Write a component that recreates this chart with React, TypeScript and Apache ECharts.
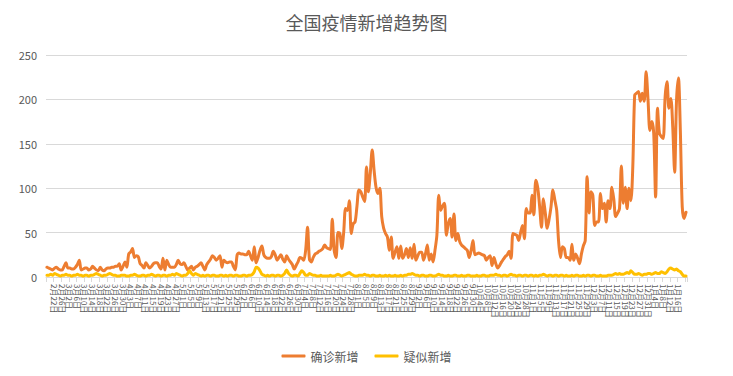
import React, { useEffect, useRef } from "react";
import * as echarts from "echarts";

const startDate = { year: 2021, month: 2, day: 18 };
const dayCount = 337;

// 确诊新增 (daily)
const confirmedValues: number[] = [
  11, 10, 9, 8, 10, 11, 9, 8, 8, 12, 16, 10, 10, 9, 9, 11, 14, 19, 8, 9,
  10, 10, 8, 9, 12, 10, 8, 7, 11, 8, 7, 9, 10, 10, 11, 11, 12, 12, 15, 8,
  12, 17, 11, 26, 28, 32, 22, 24, 23, 15, 13, 10, 16, 13, 10, 12, 15, 16, 16, 12,
  9, 21, 8, 19, 14, 11, 11, 11, 14, 19, 15, 14, 16, 12, 8, 10, 12, 8, 11, 12,
  14, 16, 12, 8, 14, 17, 20, 24, 22, 19, 21, 24, 11, 19, 17, 16, 17, 17, 12, 8,
  25, 27, 26, 26, 25, 25, 29, 24, 19, 34, 16, 22, 30, 35, 25, 22, 21, 21, 23, 29,
  25, 19, 22, 25, 20, 17, 24, 20, 17, 14, 9, 13, 17, 22, 21, 19, 30, 56, 20, 17,
  22, 26, 27, 29, 30, 32, 36, 33, 32, 31, 65, 30, 22, 50, 49, 32, 50, 77, 75, 86,
  49, 60, 62, 80, 98, 96, 90, 85, 124, 96, 117, 143, 120, 101, 94, 100, 68, 55, 49, 45,
  30, 45, 21, 28, 34, 21, 35, 21, 25, 32, 22, 33, 21, 37, 19, 24, 28, 28, 19, 26,
  36, 19, 26, 17, 30, 47, 92, 75, 80, 83, 47, 60, 66, 45, 71, 41, 49, 40, 36, 34,
  32, 30, 22, 30, 41, 25, 26, 27, 26, 25, 24, 19, 22, 24, 13, 22, 15, 10, 13, 17,
  20, 23, 25, 29, 21, 49, 48, 47, 41, 50, 58, 43, 77, 72, 72, 92, 70, 109, 101, 80,
  56, 88, 72, 55, 65, 79, 98, 87, 75, 40, 22, 34, 32, 22, 22, 19, 37, 19, 26, 21,
  15, 26, 35, 41, 113, 72, 96, 92, 58, 62, 62, 94, 77, 83, 62, 86, 77, 101, 88, 68,
  72, 77, 125, 83, 101, 77, 100, 86, 124, 205, 207, 209, 198, 207, 198, 231, 200, 165, 175, 162,
  90, 190, 162, 158, 156, 203, 220, 190, 201, 169, 118, 199, 224, 165, 79, 66, 73,
];

// 疑似新增 (daily)
const suspectedValues: number[] = [
  2, 2, 3, 2, 4, 3, 2, 1, 2, 2, 3, 2, 2, 1, 2, 2, 3, 2, 2, 1,
  2, 2, 1, 2, 2, 3, 4, 3, 2, 1, 2, 2, 3, 4, 3, 2, 2, 1, 1, 2,
  2, 2, 1, 1, 2, 2, 3, 2, 1, 1, 2, 2, 1, 2, 2, 3, 2, 1, 2, 2,
  1, 2, 2, 1, 2, 2, 3, 2, 4, 3, 2, 1, 2, 2, 4, 7, 4, 2, 4, 3,
  2, 1, 2, 1, 2, 2, 1, 2, 2, 1, 1, 2, 2, 1, 2, 1, 2, 2, 1, 2,
  2, 1, 1, 2, 2, 1, 2, 2, 3, 6, 11, 10, 7, 3, 2, 1, 2, 1, 2, 2,
  1, 2, 2, 1, 2, 4, 8, 4, 2, 1, 2, 2, 1, 4, 7, 5, 2, 2, 4, 3,
  2, 2, 1, 1, 2, 1, 1, 1, 1, 2, 1, 1, 2, 3, 2, 1, 2, 3, 4, 5,
  3, 2, 1, 1, 2, 2, 2, 3, 2, 2, 1, 2, 2, 1, 1, 2, 1, 1, 2, 1,
  2, 1, 1, 2, 1, 1, 2, 1, 2, 2, 3, 3, 4, 3, 2, 2, 1, 2, 2, 1,
  1, 2, 2, 1, 1, 2, 3, 2, 2, 1, 1, 2, 1, 1, 2, 2, 1, 1, 2, 1,
  1, 2, 2, 1, 1, 1, 2, 1, 1, 2, 2, 1, 1, 2, 2, 2, 3, 2, 2, 1,
  2, 2, 1, 2, 3, 2, 2, 1, 2, 2, 1, 2, 2, 1, 2, 2, 1, 2, 1, 2,
  2, 3, 2, 1, 2, 2, 1, 2, 2, 1, 2, 2, 1, 2, 1, 1, 2, 1, 2, 2,
  1, 1, 2, 1, 2, 2, 1, 2, 2, 1, 1, 2, 1, 1, 1, 2, 2, 2, 3, 4,
  3, 4, 3, 3, 4, 5, 4, 7, 5, 3, 3, 4, 3, 2, 3, 3, 4, 4, 3, 4,
  5, 4, 4, 6, 5, 4, 6, 9, 10, 9, 8, 9, 7, 6, 3, 1, 1,
];

const seriesNames = ["确诊新增", "疑似新增"];
const yTicks = [0, 50, 100, 150, 200, 250];

function buildCategories(): string[] {
  const out: string[] = [];
  const d = new Date(startDate.year, startDate.month - 1, startDate.day);
  for (let i = 0; i < dayCount; i++) {
    out.push(`${d.getMonth() + 1}月${d.getDate()}日`);
    d.setDate(d.getDate() + 1);
  }
  return out;
}

const categories = buildCategories();

export default function App() {
  const ref = useRef<HTMLDivElement>(null);
  useEffect(() => {
    if (!ref.current) return;
    const chart = echarts.init(ref.current, undefined, { renderer: "svg" });
    const font = "'Noto Sans CJK SC', 'Noto Sans', sans-serif";
    chart.setOption({
      animation: false,
      textStyle: { fontFamily: font },
      title: {
        text: "全国疫情新增趋势图",
        left: "center",
        top: 0,
        textStyle: { fontSize: 18, fontWeight: "normal", color: "#595959", fontFamily: font },
      },
      legend: {
        bottom: 1,
        left: "center",
        icon: "roundRect",
        itemWidth: 24,
        itemHeight: 3,
        itemGap: 16,
        textStyle: { fontSize: 12, color: "#595959", fontFamily: font },
        data: seriesNames,
      },
      grid: { left: 38, right: 38, top: 47, bottom: 91, containLabel: false },
      xAxis: {
        type: "category",
        data: categories,
        boundaryGap: true,
        axisLine: { lineStyle: { color: "#D9D9D9", width: 1 } },
        axisTick: { show: true, interval: 3, lineStyle: { color: "#D9D9D9" }, length: 5 },
        axisLabel: {
          interval: 3,
          rotate: -90,
          fontSize: 8,
          color: "#595959",
          margin: 7,
          fontFamily: font,
        },
      },
      yAxis: {
        type: "value",
        min: yTicks[0],
        max: yTicks[yTicks.length - 1],
        interval: 50,
        axisLine: { show: false },
        axisTick: { show: false },
        axisLabel: { fontSize: 11, color: "#595959", margin: 9, fontFamily: font },
        splitLine: { lineStyle: { color: "#D9D9D9", width: 1 } },
      },
      series: [
        {
          name: seriesNames[0],
          type: "line",
          data: confirmedValues,
          symbol: "none",
          smooth: 0.3,
          itemStyle: { color: "#ED7D31" },
          lineStyle: { color: "#ED7D31", width: 3, cap: "round", join: "round" },
          z: 3,
        },
        {
          name: seriesNames[1],
          type: "line",
          data: suspectedValues,
          symbol: "none",
          smooth: 0.3,
          itemStyle: { color: "#FFC000" },
          lineStyle: { color: "#FFC000", width: 3, cap: "round", join: "round" },
          z: 4,
        },
      ],
    });
    return () => chart.dispose();
  }, []);
  return <div ref={ref} style={{ width: 717, height: 360 }} />;
}
